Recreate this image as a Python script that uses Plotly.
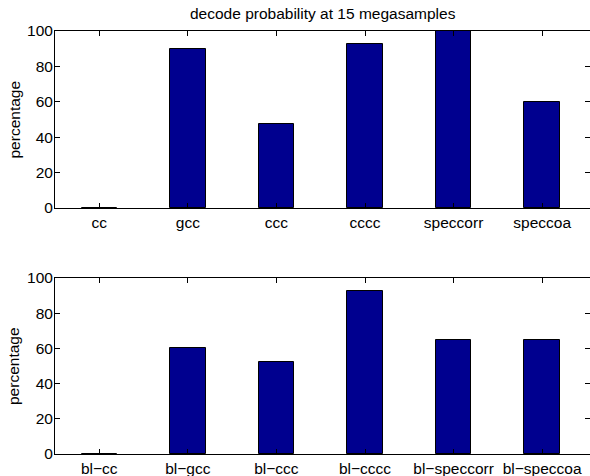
import plotly.graph_objects as go

cats_top = ["cc", "gcc", "ccc", "cccc", "speccorr", "speccoa"]
vals_top = [0, 90, 47.5, 92.5, 100, 60]
cats_bot = ["bl\u2212cc", "bl\u2212gcc", "bl\u2212ccc", "bl\u2212cccc", "bl\u2212speccorr", "bl\u2212speccoa"]
vals_bot = [0, 60, 52.5, 92.5, 65, 65]
yticks = [0, 20, 40, 60, 80, 100]

W, H = 590, 476
FAM = "Liberation Sans, Arial, sans-serif"
font = dict(family=FAM, size=15.5, color="black")
bar_color = "#00008F"

fig = go.Figure()
xs = list(range(1, 7))
fig.add_trace(go.Bar(x=xs, y=vals_top, width=0.4, marker=dict(color=bar_color, line=dict(color="black", width=1)),
                     xaxis="x", yaxis="y", showlegend=False, hoverinfo="skip"))
fig.add_trace(go.Bar(x=xs, y=vals_bot, width=0.4, marker=dict(color=bar_color, line=dict(color="black", width=1)),
                     xaxis="x2", yaxis="y2", showlegend=False, hoverinfo="skip"))

x0, x1 = 55 / W, 1.0
def xax(labels, anchor):
    return dict(domain=[x0, x1], range=[0.5, 6.54], tickmode="array", tickvals=xs, ticktext=labels,
                ticks="inside", ticklen=5, tickcolor="black", showline=True, linecolor="black", linewidth=1,
                mirror="ticks", showgrid=False, zeroline=False, anchor=anchor, tickfont=font, fixedrange=True,
                automargin=False)
def yax(dom, anchor):
    return dict(domain=dom, range=[0, 100], tickmode="array", tickvals=yticks, ticks="inside", ticklen=5,
                tickcolor="black", showline=True, linecolor="black", linewidth=1, mirror="ticks",
                showgrid=False, zeroline=False, anchor=anchor, tickfont=font, automargin=False,
                ticklabelstandoff=-2, fixedrange=True)

top_dom = [(H - 208) / H, (H - 31) / H]
bot_dom = [(H - 454) / H, (H - 278) / H]

fig.update_layout(
    width=W, height=H, margin=dict(l=0, r=0, t=0, b=0),
    paper_bgcolor="white", plot_bgcolor="white", font=font,
    xaxis=xax(cats_top, "y"),
    yaxis=yax(top_dom, "x"),
    xaxis2=xax(cats_bot, "y2"),
    yaxis2=yax(bot_dom, "x2"),
    annotations=[
        dict(text="decode probability at 15 megasamples", x=(55 + 590) / 2 / W, y=(H - 13) / H,
             xref="paper", yref="paper", showarrow=False, font=font, xanchor="center", yanchor="middle"),
        dict(text="percentage", x=14 / W, y=sum(top_dom) / 2, xref="paper", yref="paper", showarrow=False,
             textangle=-90, font=font, xanchor="center", yanchor="middle"),
        dict(text="percentage", x=14 / W, y=sum(bot_dom) / 2, xref="paper", yref="paper", showarrow=False,
             textangle=-90, font=font, xanchor="center", yanchor="middle"),
    ],
    bargap=0,
)
fig.write_html("out.html", config={"displayModeBar": False},
               post_script="document.body.style.margin='0';document.body.style.padding='0';")
